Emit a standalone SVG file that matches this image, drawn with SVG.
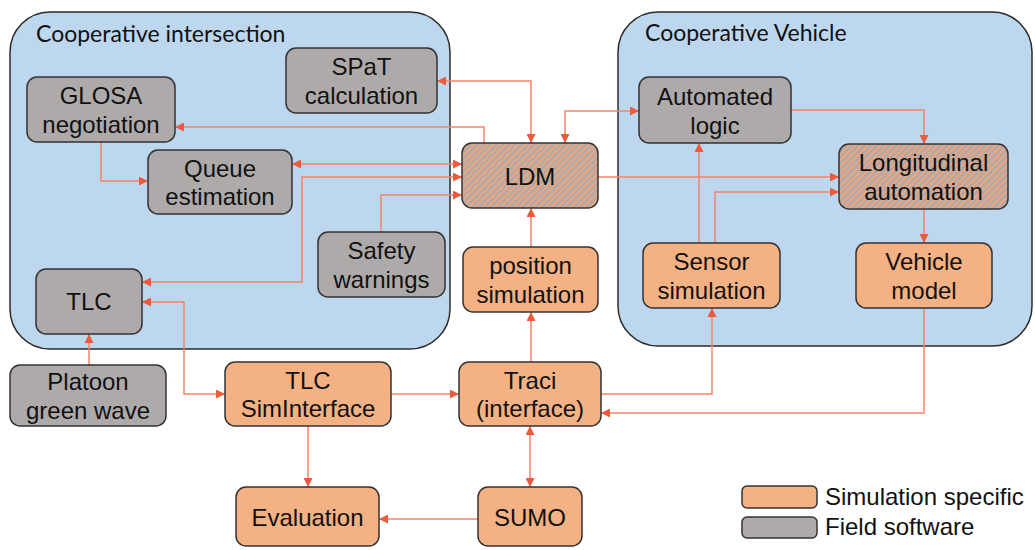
<svg xmlns="http://www.w3.org/2000/svg" width="1035" height="550" viewBox="0 0 1035 550">
<style>
.cont{fill:#BDD7EE;stroke:#2b2b2b;stroke-width:1.5}
.g{fill:#AEAAAA;stroke:#333;stroke-width:1.5}
.o{fill:#F4B183;stroke:#333;stroke-width:1.5}
.h{fill:url(#hatch);stroke:#333;stroke-width:1.5}
.t{font-family:"Liberation Sans",Arial,sans-serif;font-size:24px;fill:#111;text-anchor:middle}
.title{font-family:Lato,"Open Sans",sans-serif;font-size:23px;fill:#111}
.lg{font-family:"Liberation Sans",Arial,sans-serif;font-size:24px;fill:#111}
.c path{fill:none;stroke:#F4846A;stroke-width:1.5}
</style>
<defs>
<pattern id="hatch" width="4.5" height="4.5" patternUnits="userSpaceOnUse" patternTransform="rotate(45)">
<rect width="4.5" height="4.5" fill="#AEAAAA"/>
<rect width="2" height="4.5" fill="#F0A57C"/>
</pattern>
<marker id="a" viewBox="0 0 10 10" refX="10" refY="5" markerWidth="10" markerHeight="9" markerUnits="userSpaceOnUse" orient="auto-start-reverse">
<path d="M0,0 L10,5 L0,10 z" fill="#F05A3C"/>
</marker>
</defs>
<rect width="1035" height="550" fill="#fff"/>
<g id="coop-intersection">
<rect class="cont" x="10" y="12" width="440" height="337" rx="40"/>
<text class="title" x="36" y="42">Cooperative intersection</text>
</g>
<g id="coop-vehicle">
<rect class="cont" x="618" y="12" width="414" height="334" rx="40"/>
<text class="title" x="645" y="41">Cooperative Vehicle</text>
</g>
<g class="c" id="connectors">
<path d="M437,81 H531 V143" marker-start="url(#a)" marker-end="url(#a)"/>
<path d="M484,143 V127 H175" marker-end="url(#a)"/>
<path d="M292,164 H462" marker-start="url(#a)" marker-end="url(#a)"/>
<path d="M142,282 H302 V177 H462" marker-start="url(#a)" marker-end="url(#a)"/>
<path d="M381,232 V195 H462" marker-end="url(#a)"/>
<path d="M101,142 V181 H148" marker-end="url(#a)"/>
<path d="M565,143 V111 H639" marker-start="url(#a)" marker-end="url(#a)"/>
<path d="M598,177 H839" marker-end="url(#a)"/>
<path d="M791,110 H924 V144" marker-end="url(#a)"/>
<path d="M699,243 V143" marker-end="url(#a)"/>
<path d="M715,243 V192 H839" marker-end="url(#a)"/>
<path d="M924,209 V243" marker-end="url(#a)"/>
<path d="M924,308 V413 H601" marker-end="url(#a)"/>
<path d="M601,394 H712 V308" marker-end="url(#a)"/>
<path d="M531,362 V312" marker-end="url(#a)"/>
<path d="M531,247 V208" marker-end="url(#a)"/>
<path d="M391,394 H459" marker-end="url(#a)"/>
<path d="M142,302 H184 V394 H225" marker-start="url(#a)" marker-end="url(#a)"/>
<path d="M89,365 V334" marker-end="url(#a)"/>
<path d="M308,426 V487" marker-end="url(#a)"/>
<path d="M530,426 V487" marker-start="url(#a)" marker-end="url(#a)"/>
<path d="M478,519 H379" marker-end="url(#a)"/>
</g>
<g id="spat"><rect class="g" x="286" y="48" width="151" height="65" rx="10"/><text class="t" x="361.5" y="75">SPaT</text><text class="t" x="361.5" y="104">calculation</text></g>
<g id="glosa"><rect class="g" x="27" y="77" width="148" height="65" rx="10"/><text class="t" x="101" y="103.5">GLOSA</text><text class="t" x="101" y="132.5">negotiation</text></g>
<g id="queue"><rect class="g" x="148" y="150" width="144" height="64" rx="10"/><text class="t" x="220" y="176.5">Queue</text><text class="t" x="220" y="204.5">estimation</text></g>
<g id="ldm"><rect class="h" x="462" y="143" width="136" height="65" rx="10"/><text class="t" x="530" y="184.5">LDM</text></g>
<g id="automated"><rect class="g" x="639" y="77" width="152" height="66" rx="10"/><text class="t" x="715" y="104.5">Automated</text><text class="t" x="715" y="133.5">logic</text></g>
<g id="longitudinal"><rect class="h" x="839" y="144" width="169" height="65" rx="10"/><text class="t" x="923.5" y="170.5">Longitudinal</text><text class="t" x="923.5" y="199.5">automation</text></g>
<g id="sensor"><rect class="o" x="643" y="243" width="137" height="65" rx="10"/><text class="t" x="711.5" y="269.5">Sensor</text><text class="t" x="711.5" y="298.5">simulation</text></g>
<g id="vehicle"><rect class="o" x="856" y="243" width="136" height="65" rx="10"/><text class="t" x="924" y="269.5">Vehicle</text><text class="t" x="924" y="298.5">model</text></g>
<g id="safety"><rect class="g" x="318" y="232" width="127" height="65" rx="10"/><text class="t" x="381.5" y="258.5">Safety</text><text class="t" x="381.5" y="287.5">warnings</text></g>
<g id="tlc"><rect class="g" x="36" y="269" width="106" height="65" rx="10"/><text class="t" x="89" y="310">TLC</text></g>
<g id="position"><rect class="o" x="463" y="247" width="135" height="65" rx="10"/><text class="t" x="530.5" y="273.5">position</text><text class="t" x="530.5" y="302.5">simulation</text></g>
<g id="platoon"><rect class="g" x="10" y="365" width="156" height="61" rx="10"/><text class="t" x="88" y="389.5">Platoon</text><text class="t" x="88" y="418.5">green wave</text></g>
<g id="tlcsim"><rect class="o" x="225" y="362" width="166" height="64" rx="10"/><text class="t" x="308" y="388.5">TLC</text><text class="t" x="308" y="416.5">SimInterface</text></g>
<g id="traci"><rect class="o" x="459" y="362" width="142" height="64" rx="10"/><text class="t" x="530" y="388.5">Traci</text><text class="t" x="530" y="416.5">(interface)</text></g>
<g id="evaluation"><rect class="o" x="236" y="487" width="143" height="59" rx="10"/><text class="t" x="307.5" y="525.5">Evaluation</text></g>
<g id="sumo"><rect class="o" x="478" y="487" width="104" height="59" rx="10"/><text class="t" x="530" y="525.5">SUMO</text></g>
<g id="legend">
<rect class="o" x="742" y="486" width="75" height="22" rx="5"/>
<text class="lg" x="825" y="505">Simulation specific</text>
<rect class="g" x="742" y="517" width="75" height="21" rx="5"/>
<text class="lg" x="825" y="535">Field software</text>
</g>
</svg>
